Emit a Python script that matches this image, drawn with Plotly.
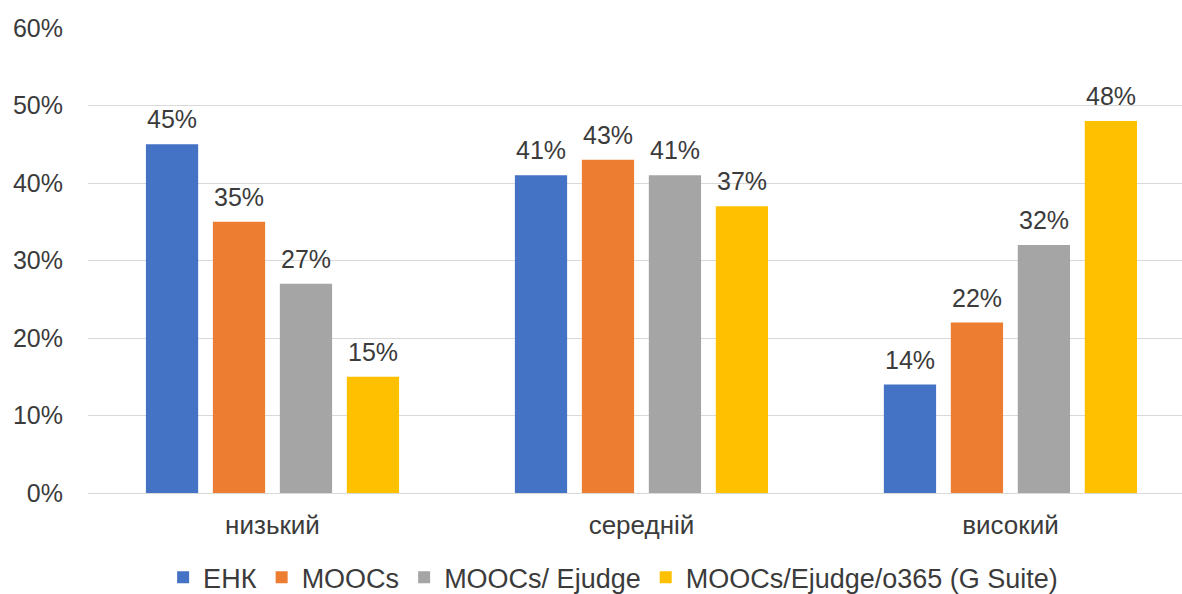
import plotly.graph_objects as go

# Рівні сформованості та частки студентів для кожного середовища навчання
levels = ["низький", "середній", "високий"]
series_names = ["ЕНК", "MOOCs", "MOOCs/ Ejudge", "MOOCs/Ejudge/o365 (G Suite)"]
enk = [0.45, 0.41, 0.14]
moocs = [0.35, 0.43, 0.22]
moocs_ejudge = [0.27, 0.41, 0.32]
moocs_ejudge_o365 = [0.15, 0.37, 0.48]
y_ticks = [0, 0.1, 0.2, 0.3, 0.4, 0.5, 0.6]

colors = ["#4472C4", "#ED7D31", "#A5A5A5", "#FFC000"]
values = [enk, moocs, moocs_ejudge, moocs_ejudge_o365]

FONT = "Liberation Sans, Arial, sans-serif"
TEXT = "#3b3b3b"
BARGAP = 0.274
BARGROUPGAP = 0.22

fig = go.Figure()
for name, vals, col in zip(series_names, values, colors):
    fig.add_trace(go.Bar(
        x=levels, y=vals, name=name,
        marker=dict(color=col, line=dict(width=0)),
        hoverinfo="x+y+name",
    ))

# Підписи значень над стовпчиками
n = len(values)
slot = (1 - BARGAP) / n
for k, vals in enumerate(values):
    for i, v in enumerate(vals):
        fig.add_annotation(
            x=i + (k - (n - 1) / 2) * slot, y=v, xref="x", yref="y",
            text=f"{round(v * 100)}%", showarrow=False,
            yanchor="bottom", yshift=9,
            font=dict(family=FONT, size=25, color=TEXT),
        )

fig.update_layout(
    width=1182, height=594,
    margin=dict(l=88, r=0, t=28, b=101, autoexpand=False),
    paper_bgcolor="white", plot_bgcolor="white",
    barmode="group", bargap=BARGAP, bargroupgap=BARGROUPGAP,
    font=dict(family=FONT, size=25, color=TEXT),
    showlegend=True,
    legend=dict(
        orientation="h", x=0.48, xanchor="center", y=-0.235, yanchor="bottom",
        font=dict(family=FONT, size=27, color=TEXT),
        bgcolor="rgba(0,0,0,0)", itemclick=False, itemdoubleclick=False,
        traceorder="normal",
    ),
)
fig.update_xaxes(
    type="category", range=[-0.5, 2.465],
    showgrid=False, showline=False, zeroline=False, ticks="",
    ticklabelstandoff=14,
    tickfont=dict(family=FONT, size=26, color=TEXT),
)
fig.update_yaxes(
    range=[0, 0.6], tickvals=y_ticks, tickformat=".0%",
    showgrid=True, gridcolor="#D9D9D9", gridwidth=1,
    zeroline=True, zerolinecolor="#D9D9D9", zerolinewidth=1,
    showline=False, ticks="", ticklabelstandoff=24,
    tickfont=dict(family=FONT, size=25, color=TEXT),
)

fig.write_html("out.html")
